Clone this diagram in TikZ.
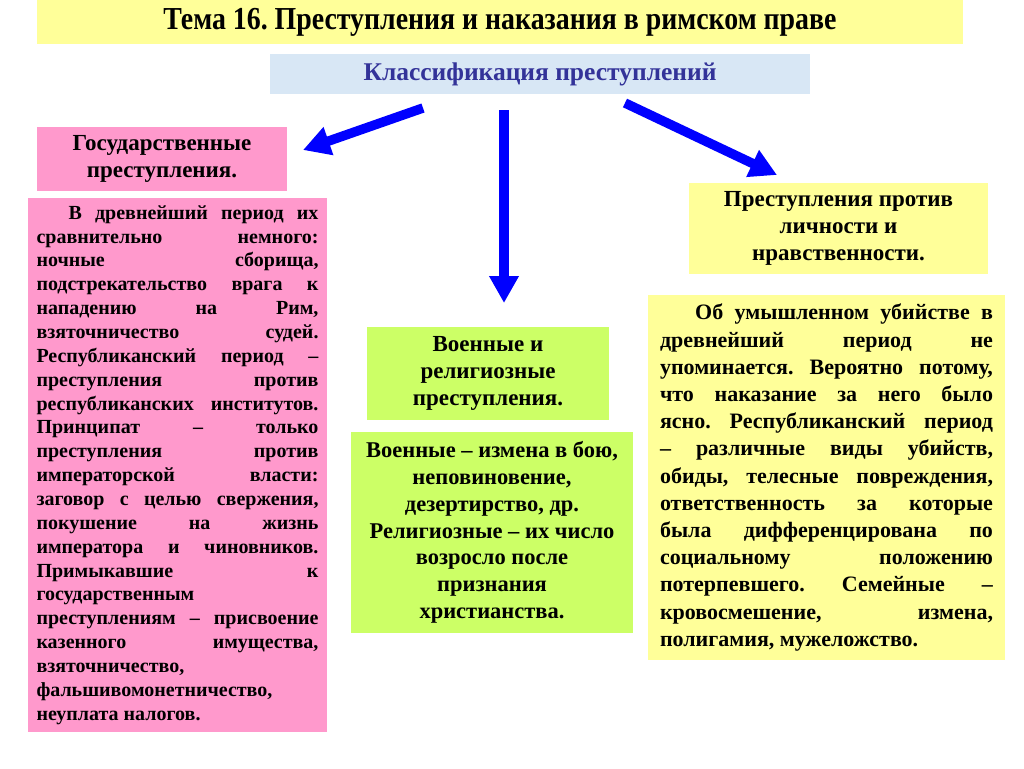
\documentclass[tikz,border=0pt]{standalone}
\usepackage{fontspec}
\setmainfont{Liberation Serif}
\newfontfamily\temafont[FakeStretch=0.87]{Liberation Serif}
\usetikzlibrary{arrows.meta,positioning}
\definecolor{temayellow}{RGB}{255,255,153}
\definecolor{gospink}{RGB}{255,153,204}
\definecolor{voengreen}{RGB}{204,255,102}
\definecolor{klassblue}{RGB}{216,231,245}
\definecolor{klasstext}{RGB}{51,51,153}
\definecolor{arrowblue}{RGB}{0,0,255}
\tikzset{>={Triangle[length=27pt,width=28pt]}}
\tikzset{
  headbox/.style={inner sep=0pt, align=center, font=\bfseries\fontsize{23}{27}\selectfont},
  bodybox/.style={inner sep=0pt, align=justify, font=\bfseries\fontsize{22}{27.2}\selectfont},
  midbox/.style={inner sep=0pt, align=center, font=\bfseries\fontsize{22.5}{26.8}\selectfont},
}
\frenchspacing

\begin{document}
\begin{tikzpicture}[x=1pt,y=-1pt]

\useasboundingbox[fill=white] (0,0) rectangle (1024,768);

\node [fill=temayellow, minimum width=926pt, minimum height=44pt, inner sep=0pt, font=\temafont\bfseries\fontsize{32}{34}\selectfont] (tema) at (500,22) {Тема 16. Преступления и наказания в римском праве};
\node [fill=klassblue, minimum width=540pt, minimum height=40pt, inner sep=0pt, text=klasstext, font=\bfseries\fontsize{25.5}{27}\selectfont] (klass) at (540,74) {Классификация преступлений};

\node [headbox, fill=gospink, minimum width=250pt, minimum height=64pt] (gos) at (162,159) {Государственные\\преступления.};
\node [bodybox, fill=gospink, minimum width=299pt, minimum height=534pt, text width=282pt, font=\bfseries\fontsize{20}{23.86}\selectfont] (gostext) at (177.5,465) {\hspace*{1.6em}В древнейший период их\linebreak сравнительно немного:\linebreak ночные сборища,\linebreak подстрекательство врага к\linebreak нападению на Рим,\linebreak взяточничество судей.\linebreak Республиканский период –\linebreak преступления против\linebreak республиканских институтов.\linebreak Принципат – только\linebreak преступления против\linebreak императорской власти:\linebreak заговор с целью свержения,\linebreak покушение на жизнь\linebreak императора и чиновников.\linebreak Примыкавшие к\linebreak государственным\linebreak преступлениям – присвоение\linebreak казенного имущества,\linebreak взяточничество,\linebreak фальшивомонетничество,\linebreak неуплата налогов.};

\node [headbox, fill=voengreen, minimum width=242pt, minimum height=93pt] (voen) at (488,373.5) {Военные и\\религиозные\\преступления.};
\node [midbox, fill=voengreen, minimum width=282pt, minimum height=201pt] (voentext) at (492,532.5) {Военные – измена в бою,\\неповиновение,\\дезертирство, др.\\Религиозные – их число\\возросло после\\признания\\христианства.};

\node [headbox, fill=temayellow, minimum width=299pt, minimum height=91pt] (lich) at (838.5,228.5) {Преступления против\\личности и\\нравственности.};
\node [bodybox, fill=temayellow, minimum width=357pt, minimum height=365pt, text width=333pt] (lichtext) at (826.5,477.5) {\hspace*{1.6em}Об умышленном убийстве в\linebreak древнейший период не\linebreak упоминается. Вероятно потому,\linebreak что наказание за него было\linebreak ясно. Республиканский период\linebreak – различные виды убийств,\linebreak обиды, телесные повреждения,\linebreak ответственность за которые\linebreak была дифференцирована по\linebreak социальному положению\linebreak потерпевшего. Семейные –\linebreak кровосмешение, измена,\linebreak полигамия, мужеложство.};

\coordinate (l0) at (423,108);
\coordinate (l1) at (303,150);
\coordinate (m0) at (504,110);
\coordinate (m1) at (504,303);
\coordinate (r0) at (625,103);
\coordinate (r1) at (777,175);

\begin{scope}[line width=9.5pt, arrowblue]
\draw[->] (l0) to (l1);
\draw[->] (m0) to (m1);
\draw[->] (r0) to (r1);
\end{scope}

\end{tikzpicture}
\end{document}
